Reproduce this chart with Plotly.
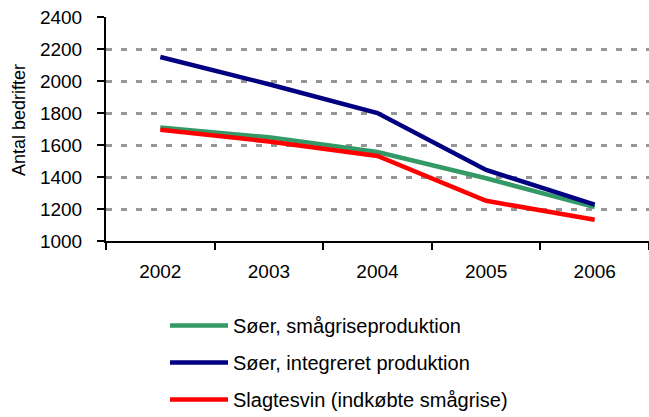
import plotly.graph_objects as go

years = ["2002", "2003", "2004", "2005", "2006"]
soer_smaagrise = [1710, 1648, 1556, 1392, 1212]
soer_integreret = [2150, 1980, 1800, 1444, 1228]
slagtesvin = [1695, 1622, 1531, 1251, 1133]

series_names = ["Søer, smågriseproduktion", "Søer, integreret produktion",
                "Slagtesvin (indkøbte smågrise)"]
series_values = [soer_smaagrise, soer_integreret, slagtesvin]
series_colors = ["#339966", "#000080", "#FF0000"]

W, H = 649, 417
L, R, T, B = 106, 0, 17, 176

fig = go.Figure()
for i, (name, vals, col) in enumerate(zip(series_names, series_values, series_colors)):
    fig.add_trace(go.Scatter(
        x=years, y=vals, mode="lines", name=name,
        line=dict(color=col, width=4.5),
        legendgroup=f"g{i}",
    ))

fig.update_layout(
    width=W, height=H,
    margin=dict(l=L, r=R, t=T, b=B, autoexpand=False),
    paper_bgcolor="white", plot_bgcolor="white",
    font=dict(family="Arial, Liberation Sans, sans-serif", size=19, color="black"),
    showlegend=True,
    legend=dict(
        x=(165 - L) / (W - L - R), y=(H - B - 306) / (H - T - B),
        xanchor="left", yanchor="top",
        font=dict(size=20),
        itemwidth=58,
        tracegroupgap=8,
        bgcolor="rgba(0,0,0,0)",
    ),
    xaxis=dict(
        type="category", range=[-0.5, 4.5],
        showline=True, linecolor="black", linewidth=2,
        ticks="outside", ticklen=7, tickwidth=2, tickcolor="black",
        tickson="boundaries",
        showgrid=False, zeroline=False,
        ticklabelstandoff=12,
        fixedrange=True,
    ),
    yaxis=dict(
        range=[1000, 2400], dtick=200, tick0=1000,
        showline=True, linecolor="black", linewidth=2,
        ticks="outside", ticklen=7, tickwidth=2, tickcolor="black",
        showgrid=True, gridcolor="#969696", gridwidth=2.5, griddash="6px,9px",
        zeroline=False,
        ticklabelstandoff=11,
        fixedrange=True,
    ),
    annotations=[dict(
        text="Antal bedrifter", textangle=-90,
        xref="paper", yref="paper",
        x=(19 - L) / (W - L - R), y=(H - B - 120) / (H - T - B),
        xanchor="center", yanchor="middle",
        showarrow=False, font=dict(size=18),
    )],
)

fig.write_html("out.html", config={"displayModeBar": False},
               post_script="document.body.style.margin='0px';")
